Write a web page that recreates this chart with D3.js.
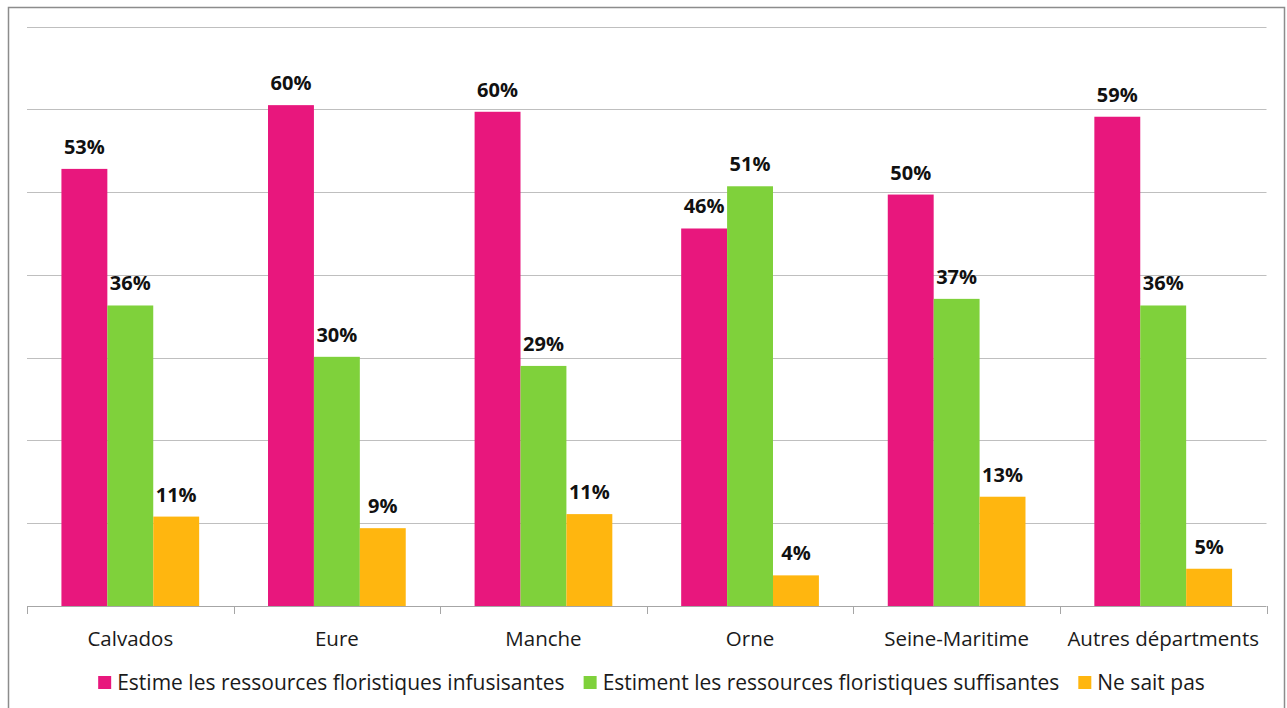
<!DOCTYPE html>
<html>
<head>
<meta charset="utf-8">
<script src="https://cdn.jsdelivr.net/npm/d3@7"></script>
<style>
  body { margin: 0; background: #fff; }
  svg { display: block; font-family: "Open Sans", "Noto Sans", sans-serif; }
</style>
</head>
<body>
<div id="chart"></div>
<script>
// data
const categories = ["Calvados", "Eure", "Manche", "Orne", "Seine-Maritime", "Autres départments"];
const seriesNames = [
  "Estime les ressources floristiques infusisantes",
  "Estiment les ressources floristiques suffisantes",
  "Ne sait pas"
];
const insuffisantes = [0.528, 0.605, 0.597, 0.456, 0.497, 0.591];
const suffisantes = [0.363, 0.301, 0.290, 0.507, 0.371, 0.363];
const neSaitPas = [0.108, 0.094, 0.111, 0.037, 0.132, 0.045];
const valueLabels = [
  ["53%", "60%", "60%", "46%", "50%", "59%"],
  ["36%", "30%", "29%", "51%", "37%", "36%"],
  ["11%", "9%", "11%", "4%", "13%", "5%"]
];
const gridTicks = [0, 0.1, 0.2, 0.3, 0.4, 0.5, 0.6, 0.7];
const colors = ["#E8177D", "#7FD13B", "#FFB60F"];

const seriesValues = [insuffisantes, suffisantes, neSaitPas];

const W = 1287, H = 708;
const svg = d3.select("#chart").append("svg").attr("width", W).attr("height", H);

// outer frame
svg.append("rect")
  .attr("x", 8.5).attr("y", 7.5)
  .attr("width", 1276).attr("height", 740)
  .attr("fill", "#fff")
  .attr("stroke", "#8C8C8C").attr("stroke-width", 1.5);

const x = d3.scaleBand().domain(categories).range([27, 1266.5]).padding(0);
const inner = d3.scaleBand().domain(d3.range(3))
  .range([x.bandwidth() / 6, x.bandwidth() * 5 / 6]).padding(0);
const y = d3.scaleLinear().domain([0, 0.7]).range([606, 26.5]);

// gridlines
svg.append("g").selectAll("line")
  .data(gridTicks.slice(1))
  .join("line")
  .attr("x1", 27).attr("x2", 1266.5)
  .attr("y1", d => Math.round(y(d)) + 0.5).attr("y2", d => Math.round(y(d)) + 0.5)
  .attr("stroke", "#BFBFBF").attr("stroke-width", 1);

// bars
const groups = svg.append("g").selectAll("g")
  .data(categories)
  .join("g")
  .attr("transform", d => `translate(${x(d)},0)`);

groups.selectAll("rect")
  .data((d, i) => seriesValues.map((s, k) => ({ k, v: s[i], label: valueLabels[k][i] })))
  .join("rect")
  .attr("x", d => inner(d.k))
  .attr("width", inner.bandwidth())
  .attr("y", d => y(d.v))
  .attr("height", d => y(0) - y(d.v))
  .attr("fill", d => colors[d.k]);

groups.selectAll("text")
  .data((d, i) => seriesValues.map((s, k) => ({ k, v: s[i], label: valueLabels[k][i] })))
  .join("text")
  .attr("x", d => inner(d.k) + inner.bandwidth() / 2)
  .attr("y", d => y(d.v) - 15)
  .attr("text-anchor", "middle")
  .attr("font-size", 20)
  .attr("font-weight", "bold")
  .attr("fill", "#111")
  .text(d => d.label);

// x axis
const xAxis = svg.append("g");
xAxis.append("line")
  .attr("x1", 27).attr("x2", 1266.5)
  .attr("y1", 606.5).attr("y2", 606.5)
  .attr("stroke", "#A6A6A6");
xAxis.selectAll(".tick")
  .data(categories.concat([null]))
  .join("line")
  .attr("class", "tick")
  .attr("x1", d => Math.round(d === null ? 1266.5 : x(d)) + 0.5)
  .attr("x2", d => Math.round(d === null ? 1266.5 : x(d)) + 0.5)
  .attr("y1", 606).attr("y2", 614)
  .attr("stroke", "#A6A6A6");
xAxis.selectAll("text")
  .data(categories)
  .join("text")
  .attr("x", d => x(d) + x.bandwidth() / 2)
  .attr("y", 646)
  .attr("text-anchor", "middle")
  .attr("font-size", 20.5)
  .attr("fill", "#1a1a1a")
  .text(d => d);

// legend
const legend = svg.append("g");
const items = legend.selectAll("g")
  .data(seriesNames)
  .join("g");
items.append("rect")
  .attr("width", 13).attr("height", 13)
  .attr("y", 676)
  .attr("fill", (d, i) => colors[i]);
items.append("text")
  .attr("x", 19)
  .attr("y", 689.5)
  .attr("font-size", 21)
  .attr("fill", "#1a1a1a")
  .text(d => d);

const gap = 19;
const widths = [];
items.each(function () {
  widths.push(19 + d3.select(this).select("text").node().getComputedTextLength());
});
const total = d3.sum(widths) + gap * (widths.length - 1);
let pos = 651.5 - total / 2;
items.attr("transform", (d, i) => {
  const t = `translate(${pos},0)`;
  pos += widths[i] + gap;
  return t;
});
</script>
</body>
</html>
